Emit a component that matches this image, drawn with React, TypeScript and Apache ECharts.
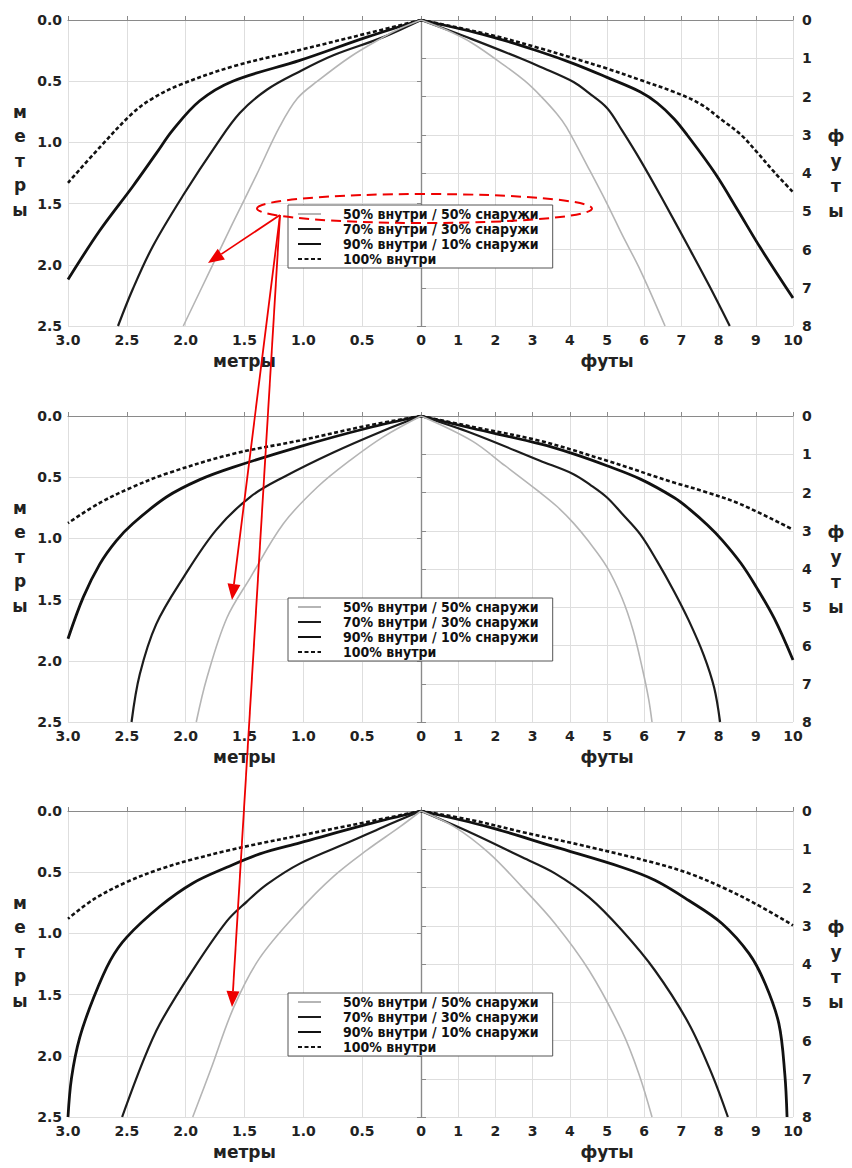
import React, { useEffect, useRef } from "react";
import * as echarts from "echarts";

const SERIES_NAMES = [
  "50% внутри / 50% снаружи",
  "70% внутри / 30% снаружи",
  "90% внутри / 10% снаружи",
  "100% внутри",
];

const X_NAME_LEFT = "метры";
const X_NAME_RIGHT = "футы";
const Y_NAME_LEFT = "м\nе\nт\nр\nы\n";
const Y_NAME_RIGHT = "ф\nу\nт\nы";

// Panel 1 — left half in metres [distance, depth]
const p1m50 = [[0, 0], [0.18, 0.07], [0.32, 0.14], [0.6, 0.3], [0.88, 0.5], [1.05, 0.64], [1.2, 0.87], [1.4, 1.27], [1.6, 1.66], [1.8, 2.06], [2.02, 2.5]];
const p1m70 = [[0, 0], [0.32, 0.14], [0.75, 0.29], [1.03, 0.42], [1.31, 0.57], [1.54, 0.76], [1.74, 1.02], [2.02, 1.43], [2.28, 1.85], [2.45, 2.2], [2.575, 2.5]];
const p1m90 = [[0, 0], [0.46, 0.14], [1.03, 0.33], [1.6, 0.5], [1.88, 0.66], [2.11, 0.9], [2.25, 1.09], [2.45, 1.36], [2.73, 1.72], [3.0, 2.12]];
const p1m100 = [[0, 0], [0.46, 0.11], [1.03, 0.245], [1.6, 0.38], [2.05, 0.53], [2.28, 0.64], [2.45, 0.76], [2.73, 1.04], [3.0, 1.33]];
// Panel 1 — right half in feet
const p1f50 = [[0, 0], [0.7, 0.27], [1.37, 0.6], [2.26, 1.2], [2.8, 1.6], [3.2, 1.97], [3.65, 2.45], [3.91, 2.8], [4.54, 3.94], [5.0, 4.8], [5.4, 5.6], [5.9, 6.55], [6.56, 8]];
const p1f70 = [[0, 0], [1.37, 0.5], [2.72, 1.02], [3.2, 1.22], [4.1, 1.62], [4.5, 1.9], [5.0, 2.3], [5.4, 2.88], [5.9, 3.67], [6.5, 4.7], [7.2, 5.95], [7.75, 6.95], [8.3, 8]];
const p1f90 = [[0, 0], [1.83, 0.42], [3.2, 0.83], [4.1, 1.14], [5.0, 1.5], [5.9, 1.88], [6.35, 2.17], [6.8, 2.58], [7.15, 3.0], [7.9, 4.0], [8.52, 4.98], [9.12, 5.95], [10, 7.27]];
const p1f100 = [[0, 0], [1.83, 0.38], [3.2, 0.74], [4.1, 1.0], [5.0, 1.27], [5.9, 1.57], [6.8, 1.88], [7.5, 2.19], [8.1, 2.62], [8.6, 3.0], [9.0, 3.42], [9.5, 3.98], [10, 4.5]];

// Panel 2
const p2m50 = [[0, 0], [0.32, 0.17], [0.6, 0.36], [0.88, 0.58], [1.17, 0.88], [1.45, 1.32], [1.65, 1.65], [1.82, 2.14], [1.91, 2.5]];
const p2m70 = [[0, 0], [0.32, 0.12], [0.75, 0.3], [1.17, 0.5], [1.45, 0.66], [1.74, 0.93], [2.02, 1.32], [2.25, 1.7], [2.39, 2.11], [2.46, 2.5]];
const p2m90 = [[0, 0], [0.46, 0.1], [1.03, 0.25], [1.6, 0.42], [1.88, 0.52], [2.16, 0.66], [2.45, 0.88], [2.59, 1.02], [2.73, 1.21], [2.87, 1.48], [3.0, 1.82]];
const p2m100 = [[0, 0], [0.46, 0.08], [1.03, 0.2], [1.6, 0.31], [2.16, 0.47], [2.45, 0.58], [2.73, 0.71], [3.0, 0.875]];
const p2f50 = [[0, 0], [1.37, 0.65], [2.26, 1.3], [3.2, 2.0], [3.65, 2.36], [4.1, 2.8], [4.5, 3.27], [5.0, 3.95], [5.4, 4.75], [5.7, 5.6], [5.95, 6.6], [6.12, 7.4], [6.21, 8]];
const p2f70 = [[0, 0], [1.37, 0.45], [3.2, 1.17], [4.1, 1.52], [4.55, 1.8], [5.0, 2.13], [5.4, 2.55], [5.9, 3.1], [6.35, 3.8], [6.8, 4.58], [7.2, 5.35], [7.6, 6.25], [7.88, 7.1], [8.04, 8]];
const p2f90 = [[0, 0], [1.37, 0.32], [3.2, 0.73], [4.1, 0.99], [5.0, 1.3], [5.9, 1.65], [6.8, 2.13], [7.2, 2.42], [7.7, 2.85], [8.1, 3.25], [8.6, 3.85], [9.0, 4.45], [9.5, 5.3], [10, 6.38]];
const p2f100 = [[0, 0], [1.37, 0.28], [3.2, 0.65], [5.0, 1.17], [6.8, 1.74], [7.7, 2.0], [8.6, 2.31], [10, 2.97]];

// Panel 3
const p3m50 = [[0, 0], [0.18, 0.13], [0.46, 0.32], [0.75, 0.54], [1.03, 0.81], [1.37, 1.2], [1.59, 1.6], [1.79, 2.12], [1.94, 2.5]];
const p3m70 = [[0, 0], [0.32, 0.13], [0.6, 0.25], [1.03, 0.43], [1.31, 0.6], [1.48, 0.74], [1.65, 0.9], [1.94, 1.3], [2.22, 1.74], [2.36, 2.04], [2.54, 2.5]];
const p3m90 = [[0, 0], [0.46, 0.11], [1.03, 0.26], [1.37, 0.35], [1.65, 0.46], [1.94, 0.59], [2.22, 0.78], [2.5, 1.03], [2.64, 1.22], [2.78, 1.52], [2.9, 1.85], [2.97, 2.18], [3.0, 2.5]];
const p3m100 = [[0, 0], [0.46, 0.09], [1.03, 0.2], [1.37, 0.265], [1.65, 0.325], [1.94, 0.395], [2.22, 0.475], [2.5, 0.58], [2.78, 0.72], [3.0, 0.88]];
const p3f50 = [[0, 0], [0.91, 0.42], [1.83, 1.1], [2.72, 1.99], [3.6, 2.94], [4.52, 4.17], [5.4, 5.75], [5.86, 6.88], [6.21, 8]];
const p3f70 = [[0, 0], [1.37, 0.58], [2.72, 1.21], [3.6, 1.63], [4.52, 2.26], [5.4, 3.12], [6.29, 4.17], [7.2, 5.56], [7.82, 6.88], [8.25, 8]];
const p3f90 = [[0, 0], [1.83, 0.42], [3.6, 0.94], [5.4, 1.47], [6.29, 1.81], [7.2, 2.34], [8.09, 2.94], [8.82, 3.73], [9.25, 4.51], [9.62, 5.56], [9.78, 6.88], [9.84, 8]];
const p3f100 = [[0, 0], [1.37, 0.24], [2.72, 0.55], [4.52, 0.94], [6.29, 1.36], [7.2, 1.63], [8.09, 1.99], [8.98, 2.42], [10, 2.99]];

const PANELS = [
  { metres: [p1m50, p1m70, p1m90, p1m100], feet: [p1f50, p1f70, p1f90, p1f100] },
  { metres: [p2m50, p2m70, p2m90, p2m100], feet: [p2f50, p2f70, p2f90, p2f100] },
  { metres: [p3m50, p3m70, p3m90, p3m100], feet: [p3f50, p3f70, p3f90, p3f100] },
];

const PANEL_TOPS = [20, 416, 811];
const LEGEND_TOPS = [205, 598, 993];
const PANEL_H = 306;
const LEFT_X = 68;
const MID_X = 421;
const RIGHT_X = 793;

const FONT = "'DejaVu Sans', Verdana, sans-serif";
const LEG_FONT = "'DejaVu Sans Condensed', 'Liberation Sans Narrow', 'Liberation Sans', sans-serif";

const LINE_STYLES: any[] = [
  { color: "#b5b5b5", width: 1.6, type: "solid" },
  { color: "#1c1c1c", width: 2.2, type: "solid" },
  { color: "#111111", width: 2.8, type: "solid" },
  { color: "#111111", width: 2.6, type: [4, 2.5] },
];

function arrow(x1: number, y1: number, x2: number, y2: number) {
  const dx = x2 - x1;
  const dy = y2 - y1;
  const len = Math.sqrt(dx * dx + dy * dy);
  const ux = dx / len;
  const uy = dy / len;
  const hl = 16;
  const hw = 6.5;
  const bx = x2 - ux * hl;
  const by = y2 - uy * hl;
  return [
    {
      type: "line",
      z: 100,
      shape: { x1, y1, x2: bx, y2: by },
      style: { stroke: "#ee0000", lineWidth: 1.8 },
    },
    {
      type: "polygon",
      z: 100,
      shape: {
        points: [
          [x2, y2],
          [bx - uy * hw, by + ux * hw],
          [bx + uy * hw, by - ux * hw],
        ],
      },
      style: { fill: "#ee0000" },
    },
  ];
}

export default function App() {
  const ref = useRef<HTMLDivElement>(null);

  useEffect(() => {
    document.body.style.margin = "0";
    if (!ref.current) return;
    const chart = echarts.init(ref.current, null, { renderer: "svg" });

    const grids: any[] = [];
    const xAxes: any[] = [];
    const yAxes: any[] = [];
    const series: any[] = [];
    const legends: any[] = [];

    const axisLine = { show: true, lineStyle: { color: "#8a8a8a", width: 1.2 } };
    const splitLine = { show: true, lineStyle: { color: "#dedede", width: 1 } };
    const labelStyle = { fontFamily: FONT, fontWeight: "bold", fontSize: 14, color: "#222" };
    const nameStyle = { fontFamily: FONT, fontWeight: "bold", fontSize: 17, color: "#222" };

    PANELS.forEach((panel, p) => {
      const top = PANEL_TOPS[p];
      grids.push({ left: LEFT_X, top, width: MID_X - LEFT_X, height: PANEL_H, containLabel: false });
      grids.push({ left: MID_X, top, width: RIGHT_X - MID_X, height: PANEL_H, containLabel: false });
      const gl = p * 2;
      const gr = p * 2 + 1;

      xAxes.push({
        type: "value", gridIndex: gl, min: 0, max: 3, interval: 0.5, inverse: true, position: "bottom",
        axisLine, splitLine,
        axisTick: { show: true, inside: true, length: 4, lineStyle: { color: "#8a8a8a" } },
        axisLabel: { ...labelStyle, margin: 7, formatter: (v: number) => (v === 0 ? "" : v.toFixed(1)) },
        name: X_NAME_LEFT, nameLocation: "middle", nameGap: 26, nameTextStyle: nameStyle,
      });
      xAxes.push({
        type: "value", gridIndex: gr, min: 0, max: 10, interval: 1, position: "bottom",
        axisLine, splitLine,
        axisTick: { show: true, inside: true, length: 4, lineStyle: { color: "#8a8a8a" } },
        axisLabel: { ...labelStyle, margin: 7, formatter: (v: number) => String(v) },
        name: X_NAME_RIGHT, nameLocation: "middle", nameGap: 26, nameTextStyle: nameStyle,
      });
      yAxes.push({
        type: "value", gridIndex: gl, min: 0, max: 2.5, interval: 0.5, inverse: true, position: "left",
        axisLine, splitLine,
        axisTick: { show: true, length: 4, lineStyle: { color: "#8a8a8a" } },
        axisLabel: { ...labelStyle, margin: 6, formatter: (v: number) => v.toFixed(1) },
        name: Y_NAME_LEFT, nameLocation: "middle", nameGap: 48, nameRotate: 0,
        nameTextStyle: { ...nameStyle, align: "center", lineHeight: 24.5 },
      });
      yAxes.push({
        type: "value", gridIndex: gr, min: 0, max: 8, interval: 1, inverse: true, position: "right",
        axisLine, splitLine,
        axisTick: { show: true, length: 5, lineStyle: { color: "#8a8a8a" } },
        axisLabel: { ...labelStyle, margin: 9, formatter: (v: number) => String(v) },
        name: Y_NAME_RIGHT, nameLocation: "middle", nameGap: 43, nameRotate: 0,
        nameTextStyle: { ...nameStyle, align: "center", lineHeight: 25 },
      });

      SERIES_NAMES.forEach((name, k) => {
        const ls = LINE_STYLES[k];
        [
          { data: panel.metres[k], axis: gl },
          { data: panel.feet[k], axis: gr },
        ].forEach((side) => {
          series.push({
            type: "line",
            name,
            xAxisIndex: side.axis,
            yAxisIndex: side.axis,
            data: side.data,
            symbol: "none",
            smooth: 0.35,
            z: 10 - k,
            lineStyle: { color: ls.color, width: ls.width, type: ls.type },
            itemStyle: { color: ls.color },
          });
        });
      });

      legends.push({
        data: SERIES_NAMES,
        orient: "vertical",
        left: 288,
        top: LEGEND_TOPS[p],
        itemWidth: 23,
        itemHeight: 14,
        itemGap: 1,
        padding: [2, 14, 2, 9],
        borderColor: "#555",
        borderWidth: 1,
        backgroundColor: "#ffffff",
        selectedMode: false,
        itemStyle: { color: "rgba(0,0,0,0)", borderColor: "rgba(0,0,0,0)", borderWidth: 0 },
        textStyle: {
          fontFamily: LEG_FONT,
          fontWeight: "bold",
          fontSize: 14,
          color: "#111",
          padding: [0, 0, 0, 17],
        },
      });
    });

    const graphic: any[] = [
      {
        type: "ellipse",
        z: 100,
        shape: { cx: 424.5, cy: 208.5, rx: 167.5, ry: 14.5 },
        style: { fill: "none", stroke: "#ee0000", lineWidth: 2, lineDash: [10, 6] },
      },
      ...arrow(280, 215, 208, 263),
      ...arrow(280, 215, 232, 600),
      ...arrow(280, 215, 232, 1007),
    ];

    chart.setOption({
      animation: false,
      backgroundColor: "#ffffff",
      grid: grids,
      xAxis: xAxes,
      yAxis: yAxes,
      legend: legends,
      series,
      graphic,
    });

    return () => {
      chart.dispose();
    };
  }, []);

  return <div ref={ref} style={{ width: 852, height: 1168 }} />;
}
